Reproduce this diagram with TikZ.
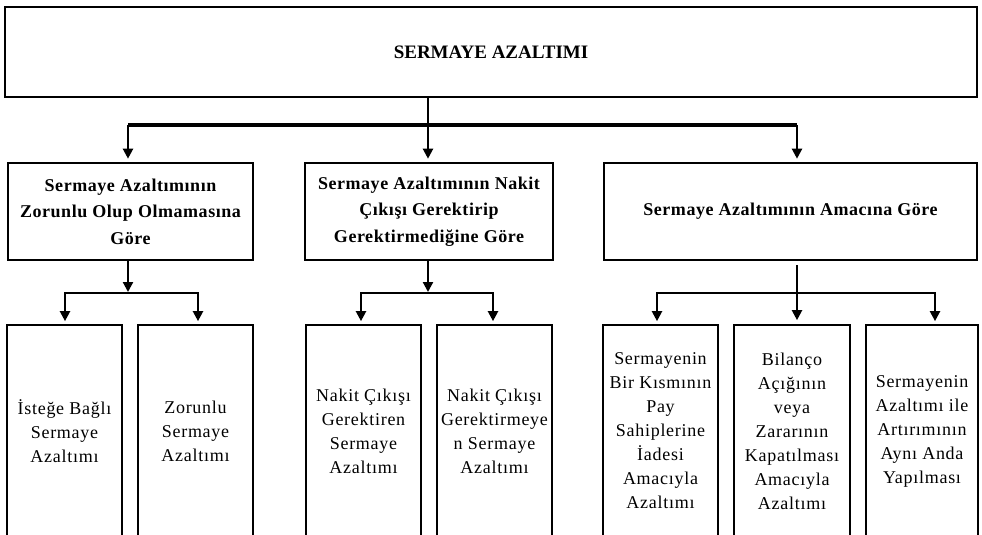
\documentclass[tikz,border=0pt]{standalone}
\usepackage{fontspec}
\setmainfont{Liberation Serif}
\newfontfamily\lvtwo[LetterSpace=3]{Liberation Serif}
\newfontfamily\lvthree[LetterSpace=4]{Liberation Serif}
\usetikzlibrary{arrows.meta}
\begin{document}
\begin{tikzpicture}[x=1pt,y=-1pt,
  topbox/.style={draw, line width=2.8pt, inner sep=0pt, font=\fontsize{19}{23}\selectfont\bfseries},
  midbox/.style={draw, line width=2.6pt, inner sep=0pt, align=center, font=\lvtwo\fontsize{18}{26.5}\selectfont\bfseries},
  lowbox/.style={draw, line width=1.7pt, inner sep=0pt, minimum width=115pt, minimum height=212pt, align=center, font=\lvthree\fontsize{18}{24}\selectfont},
  conn/.style={line width=2.2pt},
  bar/.style={line width=3.6pt},
  tip/.tip={Triangle[length=10pt,width=10pt]},
  arr/.style={conn, -tip, shorten >=3pt}
]
\useasboundingbox (0,0) rectangle (982,535);
\clip (0,0) rectangle (982,535);

% top
\node[topbox, minimum width=972pt, minimum height=90pt] (top) at (491,52) {SERMAYE AZALTIMI};

% level 2
\node[midbox, minimum width=245pt, minimum height=97pt] (m1) at (130.5,211.5)
  {Sermaye Azaltımının\\Zorunlu Olup Olmamasına\\Göre};
\node[midbox, minimum width=248pt, minimum height=97pt] (m2) at (429,211.5)
  {Sermaye Azaltımının Nakit\\Çıkışı Gerektirip\\Gerektirmediğine Göre};
\node[midbox, minimum width=373pt, minimum height=97pt] (m3) at (790.5,211.5)
  {Sermaye Azaltımının Amacına Göre};

% level 3
\node[lowbox] (b1) at (64.5,431) {İsteğe Bağlı\\Sermaye\\Azaltımı};
\node[lowbox] (b2) at (195.5,431) {Zorunlu\\Sermaye\\Azaltımı};
\node[lowbox] (b3) at (363.5,431) {Nakit Çıkışı\\Gerektiren\\Sermaye\\Azaltımı};
\node[lowbox] (b4) at (494.5,431) {Nakit Çıkışı\\Gerektirmeye\\n Sermaye\\Azaltımı};
\node[lowbox] (b5) at (660.5,431) {Sermayenin\\Bir Kısmının\\Pay\\Sahiplerine\\İadesi\\Amacıyla\\Azaltımı};
\node[lowbox, minimum width=116pt] (b6) at (792,431) {Bilanço\\Açığının\\veya\\Zararının\\Kapatılması\\Amacıyla\\Azaltımı};
\node[lowbox, minimum width=112pt] (b7) at (922,431) {Sermayenin\\Azaltımı ile\\Artırımının\\Aynı Anda\\Yapılması};

% junction coordinates
\coordinate (t0) at (428,125);
\coordinate (tL) at (128,125);
\coordinate (tR) at (797,125);
\coordinate (a0) at (128,293);
\coordinate (aL) at (65,293);
\coordinate (aR) at (198,293);
\coordinate (c0) at (428,293);
\coordinate (cL) at (361,293);
\coordinate (cR) at (493,293);
\coordinate (e0) at (797,293);
\coordinate (eL) at (657,293);
\coordinate (eR) at (935,293);

% top connectors
\draw[arr] (top.south -| t0) -- (t0 |- m2.north);
\draw[bar] (tL) -- (tR);
\draw[arr] (tL) -- (tL |- m1.north);
\draw[arr] (tR) -- (tR |- m3.north);

% group 1
\draw[arr, shorten >=1pt] (m1.south -| a0) -- (a0);
\draw[conn, tip-tip, shorten <=3pt, shorten >=3pt] (aL |- b1.north) -- (aL) -- (aR) -- (aR |- b2.north);

% group 2
\draw[arr, shorten >=1pt] (m2.south -| c0) -- (c0);
\draw[conn, tip-tip, shorten <=3pt, shorten >=3pt] (cL |- b3.north) -- (cL) -- (cR) -- (cR |- b4.north);

% group 3
\draw[arr, shorten <=4pt, shorten >=4pt] (m3.south -| e0) -- (e0 |- b6.north);
\draw[conn, tip-tip, shorten <=3pt, shorten >=3pt] (eL |- b5.north) -- (eL) -- (eR) -- (eR |- b7.north);
\end{tikzpicture}
\end{document}
